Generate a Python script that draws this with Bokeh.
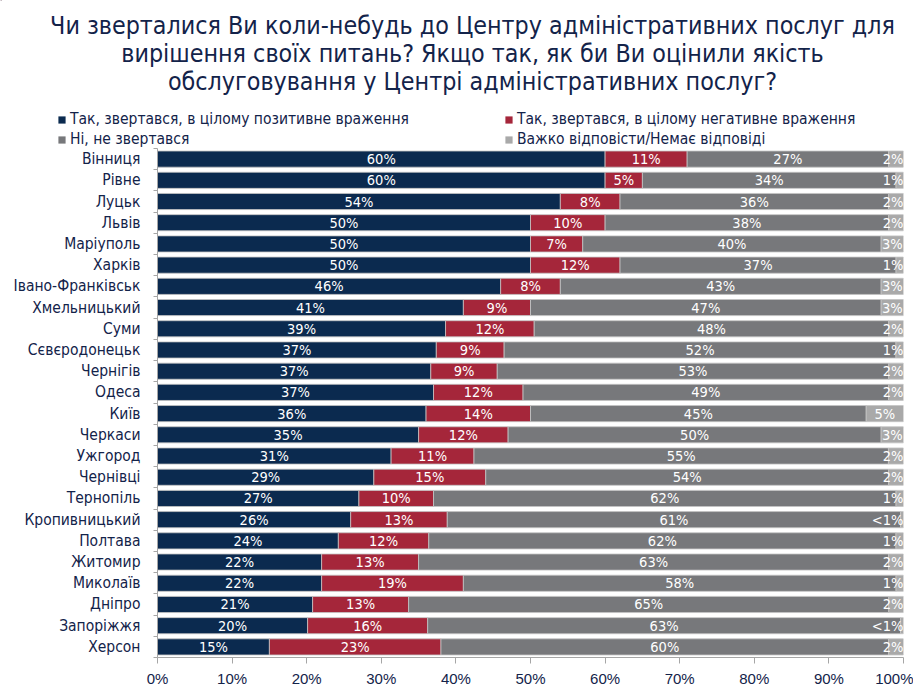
from bokeh.plotting import figure
from bokeh.models import ColumnDataSource, FixedTicker, Legend, LegendItem, Range1d
from bokeh.layouts import column
from bokeh.embed import file_html
from bokeh.resources import INLINE

# ---------------- data ----------------
cities = ["Вінниця", "Рівне", "Луцьк", "Львів", "Маріуполь", "Харків",
          "Івано-Франківськ", "Хмельницький", "Суми", "Сєвєродонецьк", "Чернігів",
          "Одеса", "Київ", "Черкаси", "Ужгород", "Чернівці", "Тернопіль",
          "Кропивницький", "Полтава", "Житомир", "Миколаїв", "Дніпро",
          "Запоріжжя", "Херсон"]
positive = [60, 60, 54, 50, 50, 50, 46, 41, 39, 37, 37, 37, 36, 35, 31, 29, 27, 26, 24, 22, 22, 21, 20, 15]
negative = [11, 5, 8, 10, 7, 12, 8, 9, 12, 9, 9, 12, 14, 12, 11, 15, 10, 13, 12, 13, 19, 13, 16, 23]
not_applied = [27, 34, 36, 38, 40, 37, 43, 47, 48, 52, 53, 49, 45, 50, 55, 54, 62, 61, 62, 63, 58, 65, 63, 60]
hard_to_say = [2, 1, 2, 2, 3, 1, 3, 3, 2, 1, 2, 2, 5, 3, 2, 2, 1, 0.4, 1, 2, 1, 2, 0.4, 2]
hard_labels = ["2%", "1%", "2%", "2%", "3%", "1%", "3%", "3%", "2%", "1%", "2%", "2%", "5%",
               "3%", "2%", "2%", "1%", "<1%", "1%", "2%", "1%", "2%", "<1%", "2%"]

series_names = ["Так, звертався, в цілому позитивне враження",
                "Так, звертався, в цілому негативне враження",
                "Ні, не звертався",
                "Важко відповісти/Немає відповіді"]
title_lines = ["Чи зверталися Ви коли-небудь до Центру адміністративних послуг для",
               "вирішення своїх питань? Якщо так, як би Ви оцінили якість",
               "обслуговування у Центрі адміністративних послуг?"]
x_ticks = [0, 10, 20, 30, 40, 50, 60, 70, 80, 90, 100]
x_tick_labels = ["0%", "10%", "20%", "30%", "40%", "50%", "60%", "70%", "80%", "90%", "100%"]

colors = ["#0b2a4f", "#a5263a", "#77787b", "#a9a9a9"]
NAVY_TEXT = "#13234a"
FONT = "DejaVu Sans Condensed"
W = 913
HEADER_H = 148

# ---------------- header (title + legend) ----------------
hdr = figure(width=W, height=HEADER_H, x_range=Range1d(0, W), y_range=Range1d(HEADER_H, 0),
             output_backend="svg", toolbar_location=None,
             x_axis_type=None, y_axis_type=None, min_border=0)
hdr.frame_align = False
hdr.outline_line_color = None
hdr.xgrid.grid_line_color = None
hdr.ygrid.grid_line_color = None
hdr.text(x=[472] * 3, y=[25, 53, 81], text=title_lines, text_align="center",
         text_baseline="middle", text_font_size="24.8px",
         text_font={"value": FONT}, text_color=NAVY_TEXT)
dummy = []
for k in range(4):
    dummy.append(hdr.hbar(y=[-500], left=[0], right=[1], height=1,
                          fill_color=colors[k], line_color=None))
items = [LegendItem(label=series_names[k], renderers=[dummy[k]]) for k in range(4)]
legend = Legend(items=items, location=(57, 0), orientation="horizontal", ncols=2,
                glyph_width=9, glyph_height=9, label_standoff=4, label_width=432,
                label_height=16, spacing=2, padding=0, margin=0,
                label_text_font=FONT, label_text_font_size="15.5px",
                label_text_color=NAVY_TEXT, background_fill_alpha=0,
                border_line_color=None)
hdr.add_layout(legend)

# ---------------- main chart ----------------
n = len(cities)
ys = [n - 1 - i + 0.5 for i in range(n)]
series = [positive, negative, not_applied, hard_to_say]
totals = [sum(s[i] for s in series) for i in range(n)]
scaled = [[s[i] * 100.0 / totals[i] for i in range(n)] for s in series]

data = {"y": ys}
lefts = [0.0] * n
for k in range(4):
    rights = [lefts[i] + scaled[k][i] for i in range(n)]
    data[f"l{k}"] = list(lefts)
    data[f"r{k}"] = rights
    lefts = rights
src = ColumnDataSource(data)

p = figure(width=W, height=541, x_range=Range1d(0, 100), y_range=Range1d(0, n),
           output_backend="svg", toolbar_location=None,
           min_border_left=157, min_border_right=10, min_border_top=0, min_border_bottom=30)
p.frame_align = False
p.outline_line_color = None
p.xgrid.grid_line_color = None
p.ygrid.grid_line_color = None

for k in range(4):
    p.hbar(y="y", left=f"l{k}", right=f"r{k}", height=0.76, source=src,
           fill_color=colors[k], line_color="#c4c4c4", line_width=0.8)

label_sets = [[f"{v}%" for v in positive], [f"{v}%" for v in negative],
              [f"{v}%" for v in not_applied]]
for k in range(3):
    cx = [(data[f"l{k}"][i] + data[f"r{k}"][i]) / 2 for i in range(n)]
    p.text(x=cx, y=ys, text=label_sets[k], text_align="center", text_baseline="middle",
           text_color="white", text_font_size="14.5px", text_font={"value": FONT})
cx_c, y_c, t_c, cx_r, y_r, t_r = [], [], [], [], [], []
for i in range(n):
    c = (data["l3"][i] + data["r3"][i]) / 2
    if c + 1.4 > 100:
        cx_r.append(100); y_r.append(ys[i]); t_r.append(hard_labels[i])
    else:
        cx_c.append(c); y_c.append(ys[i]); t_c.append(hard_labels[i])
p.text(x=cx_c, y=y_c, text=t_c, text_align="center", text_baseline="middle",
       text_color="white", text_font_size="14.5px", text_font={"value": FONT})
p.text(x=cx_r, y=y_r, text=t_r, text_align="right", text_baseline="middle",
       text_color="white", text_font_size="14.5px", text_font={"value": FONT})

p.xaxis.ticker = FixedTicker(ticks=x_ticks)
p.xaxis.major_label_overrides = {v: l for v, l in zip(x_ticks, x_tick_labels)}
p.xaxis.major_tick_out = 6
p.xaxis.major_tick_in = 0
p.xaxis.minor_tick_line_color = None
p.xaxis.axis_line_color = "#a6a6a6"
p.xaxis.major_tick_line_color = "#a6a6a6"
p.xaxis.major_label_text_font = "Liberation Sans"
p.xaxis.major_label_text_font_size = "15px"
p.xaxis.major_label_text_color = NAVY_TEXT
p.xaxis.major_label_standoff = 6

p.yaxis.ticker = FixedTicker(ticks=ys, minor_ticks=list(range(n + 1)))
p.yaxis.major_label_overrides = {y: c for y, c in zip(ys, cities)}
p.yaxis.major_tick_out = 0
p.yaxis.major_tick_in = 0
p.yaxis.minor_tick_out = 4
p.yaxis.minor_tick_in = 0
p.yaxis.minor_tick_line_color = "#a6a6a6"
p.yaxis.axis_line_color = "#a6a6a6"
p.yaxis.major_label_text_font = FONT
p.yaxis.major_label_text_font_size = "15.5px"
p.yaxis.major_label_text_color = NAVY_TEXT
p.yaxis.major_label_standoff = 13

layout = column(hdr, p, spacing=0)
open("out.html", "w").write(file_html(layout, INLINE))
